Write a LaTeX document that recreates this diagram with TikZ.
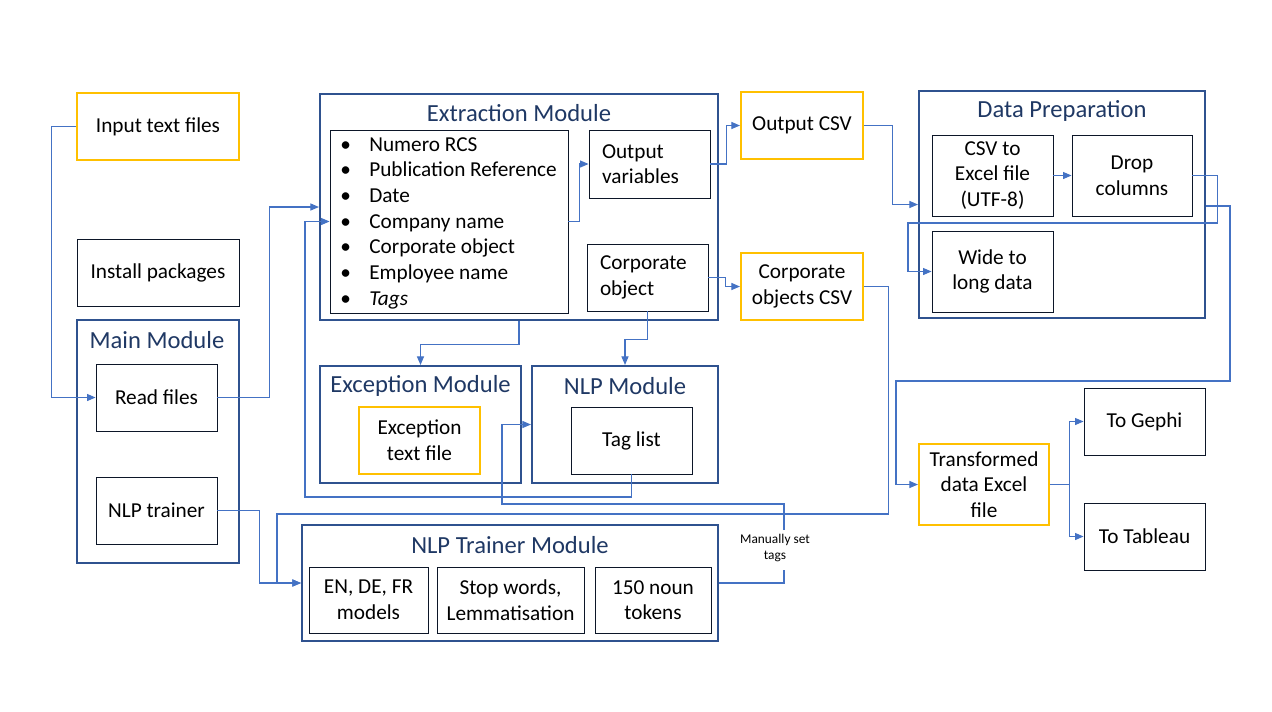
\documentclass[tikz,border=0pt]{standalone}
\usepackage{fontspec}
\setmainfont{Carlito}
\usetikzlibrary{arrows.meta}
\definecolor{gold}{HTML}{FFC000}
\definecolor{modblue}{HTML}{2F528F}
\definecolor{titleblue}{HTML}{1F3864}
\definecolor{linkblue}{HTML}{4472C4}
\newcommand{\bul}{\makebox[0.58cm][l]{\textbullet}}
\begin{document}
\begin{tikzpicture}[
    x=0.02cm, y=-0.02cm,
    every node/.style={
        font=\fontsize{12.1}{14.6}\selectfont,
        align=center,
        inner sep=0pt},
    sz/.style 2 args={minimum width=#1*0.02cm, minimum height=#2*0.02cm},
    plain/.style={draw=black!60!titleblue, line width=0.5pt},
    filebox/.style={draw=gold, line width=1.2pt},
    module/.style={draw=modblue, line width=1.2pt},
    title/.style={text=titleblue, font=\fontsize{14}{16}\selectfont},
    conn/.style={draw=linkblue, line width=0.6pt,
        -{Triangle[length=0.17cm,width=0.14cm]}},
    link/.style={draw=linkblue, line width=0.6pt}]
    \useasboundingbox (0,0) rectangle (1272,711);

    \node[filebox, sz={162}{67}] (input) at (158,126.5) {Input text files};
    \node[plain, sz={162}{67}] (install) at (158,272.5) {Install packages};
    \node[module, sz={162}{243}] (mainmod) at (158,441.5) {};
    \node[title] (maint) at (157,340) {Main Module};
    \node[plain, sz={121}{67}] (read) at (156.5,397.5) {Read files};
    \node[plain, sz={121}{67}] (nlptrain) at (156.5,510.5) {NLP trainer};

    \node[module, sz={398}{226}] (extract) at (519,207) {};
    \node[title] (extractt) at (519,113) {Extraction Module};
    \node[plain, sz={238}{183}] (bullets) at (449,221.5) {};
    \node[anchor=west, align=left] (blist) at (340,223)
        {\bul Numero RCS\\ \bul Publication Reference\\ \bul Date\\
         \bul Company name\\ \bul Corporate object\\ \bul Employee name\\
         \bul \textit{Tags}};
    \node[plain, sz={121}{68}, text width=1.9cm, align=left, inner xsep=0.2cm]
        (outvar) at (649.5,164) {Output\\variables};
    \node[plain, sz={121}{67}, text width=1.9cm, align=left, inner xsep=0.2cm]
        (corpobj) at (647.5,277.5) {Corporate\\object};

    \node[filebox, sz={122}{67}] (outcsv) at (802,125.5) {Output CSV};
    \node[filebox, sz={122}{67}] (corpcsv) at (802,286.5) {Corporate\\objects CSV};

    \node[module, sz={286}{227}] (dataprep) at (1062,204.5) {};
    \node[title] (dataprept) at (1062,111) {Data Preparation};
    \node[plain, sz={121}{81}] (csvxl) at (992.5,175.5) {CSV to\\Excel file\\(UTF-8)};
    \node[plain, sz={120}{81}] (drop) at (1132,175.5) {Drop\\columns};
    \node[plain, sz={121}{81}] (wide) at (992.5,271.5) {Wide to\\long data};

    \node[module, sz={201}{117}] (exception) at (420.5,424.5) {};
    \node[title] (exceptiont) at (420.5,386) {Exception Module};
    \node[filebox, sz={121}{67}] (exctext) at (419.5,440.5) {Exception\\text file};

    \node[module, sz={186}{117}] (nlp) at (625,424.5) {};
    \node[title] (nlpt) at (625,386) {NLP Module};
    \node[plain, sz={121}{67}] (taglist) at (631.5,440.5) {Tag list};

    \node[module, sz={416}{116}] (trainer) at (510,583) {};
    \node[title] (trainert) at (510,545) {NLP Trainer Module};
    \node[plain, sz={119}{66}] (models) at (368.5,600) {EN, DE, FR\\models};
    \node[plain, sz={147}{66}] (stopw) at (510.5,600) {Stop words,\\Lemmatisation};
    \node[plain, sz={116}{66}] (tokens) at (653,600) {150 noun\\tokens};

    \node[filebox, sz={130}{81}] (trans) at (984,484.5) {Transformed\\data Excel\\file};
    \node[plain, sz={121}{67}] (gephi) at (1144.5,421.5) {To Gephi};
    \node[plain, sz={121}{67}] (tableau) at (1144.5,536.5) {To Tableau};

    \node[font=\fontsize{7.6}{9.5}\selectfont] (manual) at (775,548) {Manually set\\tags};

    \draw[conn] (input.west) -- ++(-24,0) |- (read.west);
    \draw[conn] (read.east) -- ++(52,0) |- (extract.west);
    \draw[conn] (taglist.south) |- (305,497) |- (bullets.west);
    \draw[conn] (bullets.east) -- ++(11,0) |- (outvar.west);
    \draw[conn] (outvar.east) -- ++(16,0) |- (outcsv.west);
    \draw[conn] (corpobj.east) -- ++(17,0) |- (corpcsv.west);
    \draw[conn] (outcsv.east) -- ++(28,0) |- (dataprep.west);
    \draw[conn] (csvxl) -- (drop);
    \draw[conn] (drop.east) -- ++(25,0) |- (908,223) |- (wide.west);
    \draw[conn] (dataprep.east |- 0,206) -- (1230,206) |- (896,381) |- (trans.west);
    \draw[conn] (corpcsv.east) -- ++(24,0) |- (277,514) |- (trainer.west);
    \draw[conn] (nlptrain.east) -- ++(42,0) |- (trainer.west);
    \draw[link] (trainer.east) -| (784,570);
    \draw[conn] (784,530) |- (502,504) |- (nlp.west);
    \draw[conn] (extract.south) -- ++(0,23) -| (exception.north);
    \draw[conn] (corpobj.south) -- ++(0,28) -| (nlp.north);
    \draw[conn] (trans.east) -- ++(19,0) |- (gephi.west);
    \draw[conn] (trans.east) -- ++(19,0) |- (tableau.west);
\end{tikzpicture}
\end{document}
